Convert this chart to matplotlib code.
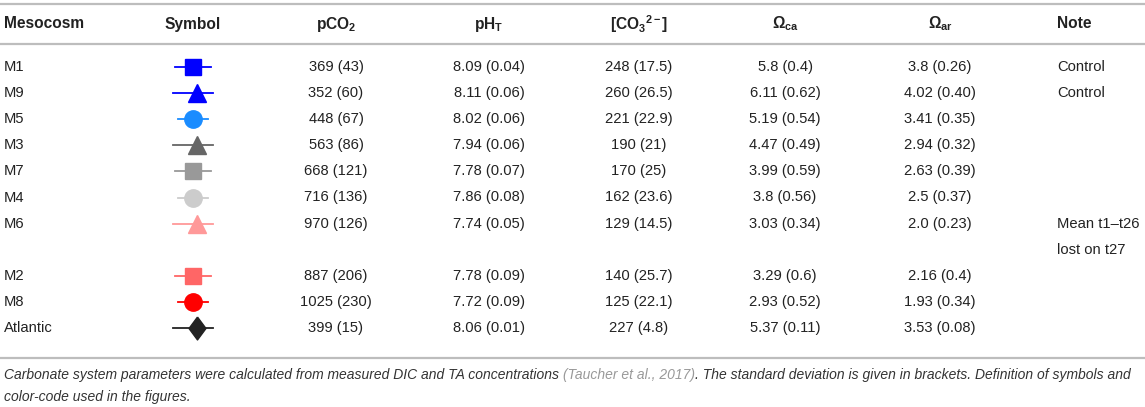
import matplotlib
matplotlib.use("Agg")
import matplotlib.pyplot as plt

plt.rcParams['font.family'] = ['Liberation Sans', 'DejaVu Sans']
plt.rcParams['mathtext.fontset'] = 'custom'
plt.rcParams['mathtext.rm'] = 'Liberation Sans'
plt.rcParams['mathtext.bf'] = 'Liberation Sans:bold'
plt.rcParams['mathtext.it'] = 'Liberation Sans:italic'

# table content
mesocosms = ['M1', 'M9', 'M5', 'M3', 'M7', 'M4', 'M6', 'M2', 'M8', 'Atlantic']
pco2 = ['369 (43)', '352 (60)', '448 (67)', '563 (86)', '668 (121)', '716 (136)',
        '970 (126)', '887 (206)', '1025 (230)', '399 (15)']
ph = ['8.09 (0.04)', '8.11 (0.06)', '8.02 (0.06)', '7.94 (0.06)', '7.78 (0.07)',
      '7.86 (0.08)', '7.74 (0.05)', '7.78 (0.09)', '7.72 (0.09)', '8.06 (0.01)']
co3 = ['248 (17.5)', '260 (26.5)', '221 (22.9)', '190 (21)', '170 (25)',
       '162 (23.6)', '129 (14.5)', '140 (25.7)', '125 (22.1)', '227 (4.8)']
om_ca = ['5.8 (0.4)', '6.11 (0.62)', '5.19 (0.54)', '4.47 (0.49)', '3.99 (0.59)',
         '3.8 (0.56)', '3.03 (0.34)', '3.29 (0.6)', '2.93 (0.52)', '5.37 (0.11)']
om_ar = ['3.8 (0.26)', '4.02 (0.40)', '3.41 (0.35)', '2.94 (0.32)', '2.63 (0.39)',
         '2.5 (0.37)', '2.0 (0.23)', '2.16 (0.4)', '1.93 (0.34)', '3.53 (0.08)']
notes = ['Control', 'Control', '', '', '', '', 'Mean t1\u2013t26\nlost on t27', '', '', '']
markers = ['s', '^', 'o', '^', 's', 'o', '^', 's', 'o', 'D']
colors = ['#0000ff', '#0000ff', '#1a8cff', '#666666', '#999999', '#cccccc',
          '#ff9999', '#ff6666', '#ff0000', '#222222']
headers = ['Mesocosm', 'Symbol', r'pCO$_\mathbf{2}$', r'pH$_\mathbf{T}$',
           r'[CO$_\mathbf{3}$$^\mathbf{2-}$]', r'$\mathbf{\Omega}_\mathbf{ca}$',
           r'$\mathbf{\Omega}_\mathbf{ar}$', 'Note']

W, H = 1145, 407
fig = plt.figure(figsize=(W / 100, H / 100), dpi=100)
ax = fig.add_axes([0, 0, 1, 1])
ax.set_xlim(0, W)
ax.set_ylim(H, 0)
ax.axis('off')

txt = '#222222'
fs = 10.6
col_x = [4, 193, 336, 489, 639, 785, 940, 1057]
slots = [0, 1, 2, 3, 4, 5, 6, 8, 9, 10]
row_y = [67 + 26.1 * s for s in slots]

# rules
for y in (4, 44, 358):
    ax.plot([0, W], [y, y], color='#bdbdbd', lw=1.6, solid_capstyle='butt')

# header
for i, h in enumerate(headers):
    ha = 'left' if i in (0, 7) else 'center'
    ax.text(col_x[i], 24, h, ha=ha, va='center', fontsize=11.2, fontweight='bold', color=txt)

diamond = [(0, 1), (0.74, 0), (0, -1), (-0.74, 0), (0, 1)]
sizes = {'s': 11, '^': 12.5, 'o': 12.5, 'D': 16.5}
half = {'s': 18, '^': 20, 'o': 15, 'D': 20}

for r in range(len(mesocosms)):
    y = row_y[r]
    ax.text(col_x[0], y, mesocosms[r], ha='left', va='center', fontsize=fs, color=txt)
    m = markers[r]
    xc = col_x[1]
    ax.plot([xc - half[m], xc + half[m]], [y, y], color=colors[r], lw=1.3)
    mk = diamond if m == 'D' else m
    xm = xc + (4 if m in ('^', 'D') else 0)
    ax.plot([xm], [y], marker=mk, ms=sizes[m], color=colors[r], mec=colors[r], ls='none')
    for c, vals in zip(col_x[2:7], (pco2, ph, co3, om_ca, om_ar)):
        ax.text(c, y, vals[r], ha='center', va='center', fontsize=fs, color=txt)
    if notes[r]:
        for k, line in enumerate(notes[r].split('\n')):
            ax.text(col_x[7], y + 26.1 * k, line, ha='left', va='center', fontsize=fs, color=txt)

# caption, pieced together so the citation can be grey
cap_fs = 10.0
pieces = [('Carbonate system parameters were calculated from measured DIC and TA concentrations ', '#333333'),
          ('(Taucher et al., 2017)', '#999999'),
          ('. The standard deviation is given in brackets. Definition of symbols and', '#333333')]
fig.canvas.draw()
rend = fig.canvas.get_renderer()
x = 4
for s, c in pieces:
    t = ax.text(x, 375, s, ha='left', va='center', fontsize=cap_fs, style='italic', color=c)
    bb = t.get_window_extent(renderer=rend)
    x += bb.width
ax.text(4, 397, 'color-code used in the figures.', ha='left', va='center',
        fontsize=cap_fs, style='italic', color='#333333')

fig.savefig('out.png', dpi=100)
